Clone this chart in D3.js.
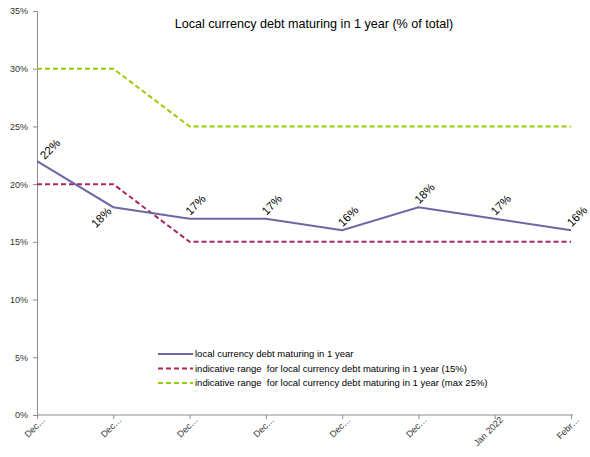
<!DOCTYPE html>
<html><head><meta charset="utf-8">
<script src="https://cdn.jsdelivr.net/npm/d3@7"></script>
<style>body{margin:0;background:#fff}svg{display:block}text{font-family:"Liberation Sans",Arial,sans-serif;white-space:pre}</style>
</head><body>
<svg id="c" width="590" height="457"></svg>
<script>
const categories = ["Dec…","Dec…","Dec…","Dec…","Dec…","Dec…","Jan 2022","Febr…"];
const debtMaturing = [22,18,17,17,16,18,17,16];
const range15 = [20,20,15,15,15,15,15,15];
const rangeMax25 = [30,30,25,25,25,25,25,25];
const labelPos = ["above","below","above","above","above","above","above","above"];
const yTicks = [0,5,10,15,20,25,30,35];
const seriesNames = ["local currency debt maturing in 1 year",
  "indicative range  for local currency debt maturing in 1 year (15%)",
  "indicative range  for local currency debt maturing in 1 year (max 25%)"];
const title = "Local currency debt maturing in 1 year (% of total)";

const svg = d3.select("#c");
const m = {l:37, r:571, t:11, b:415};
const x = d3.scalePoint().domain(d3.range(categories.length)).range([m.l, m.r]);
const y = d3.scaleLinear().domain([0,35]).range([m.b, m.t]);
const axisCol = "#8c8c8c";

// y axis
const ya = svg.append("g").attr("transform",`translate(${m.l},0)`)
  .call(d3.axisLeft(y).tickValues(yTicks).tickFormat(d=>d+"%").tickSize(4).tickPadding(5));
ya.select(".domain").attr("stroke",axisCol);
ya.selectAll(".tick line").attr("stroke",axisCol);
ya.selectAll("text").attr("font-size",9).attr("fill","#333").style("font-family","Liberation Sans, Arial, sans-serif");

// x axis
const xa = svg.append("g").attr("transform",`translate(0,${m.b})`)
  .call(d3.axisBottom(x).tickFormat(i=>categories[i]).tickSize(4).tickSizeOuter(0));
xa.select(".domain").attr("stroke",axisCol).attr("d",`M${m.l},0H${m.r+2}`);
xa.selectAll(".tick line").attr("stroke",axisCol);
xa.selectAll("text").attr("font-size",9).attr("fill","#333").style("font-family","Liberation Sans, Arial, sans-serif")
  .attr("text-anchor","end").attr("transform","translate(-1,-4) rotate(-45)").attr("dy","0.7em");

const line = d3.line().x((d,i)=>x(i)).y(d=>y(d));
const series = [
  {vals:debtMaturing, color:"#6b68a5", dash:null, w:2},
  {vals:range15, color:"#a8275f", dash:"5,3", w:2},
  {vals:rangeMax25, color:"#99cc00", dash:"5,3", w:2}
];
[series[2],series[1],series[0]].forEach(s=>{
  svg.append("path").datum(s.vals).attr("d",line).attr("fill","none")
    .attr("stroke",s.color).attr("stroke-width",s.w).attr("stroke-dasharray",s.dash);
});

// data labels
svg.append("g").selectAll("text").data(debtMaturing).join("text")
  .attr("transform",(d,i)=>{
    const above = labelPos[i]==="above";
    const dx = above ? (i===0?13:6) : -12;
    const dy = above ? (i===0?-12:-14) : 10;
    return `translate(${x(i)+dx},${y(d)+dy}) rotate(-45)`;
  })
  .attr("text-anchor","middle").attr("dy","0.35em").attr("font-size",11.5).attr("fill","#000")
  .text(d=>d+"%");

// title
svg.append("text").attr("x",314).attr("y",28).attr("text-anchor","middle")
  .attr("font-size",12.6).attr("fill","#000").text(title);

// legend
const lg = svg.append("g");
seriesNames.forEach((n,i)=>{
  const yy = 354 + i*14.5;
  lg.append("line").attr("x1",158).attr("x2",193).attr("y1",yy).attr("y2",yy)
    .attr("stroke",series[i].color).attr("stroke-width",2).attr("stroke-dasharray",series[i].dash);
  lg.append("text").attr("x",195).attr("y",yy).attr("dy","0.35em").attr("font-size",9.5)
    .attr("fill","#000").text(n);
});
</script>
</body></html>
